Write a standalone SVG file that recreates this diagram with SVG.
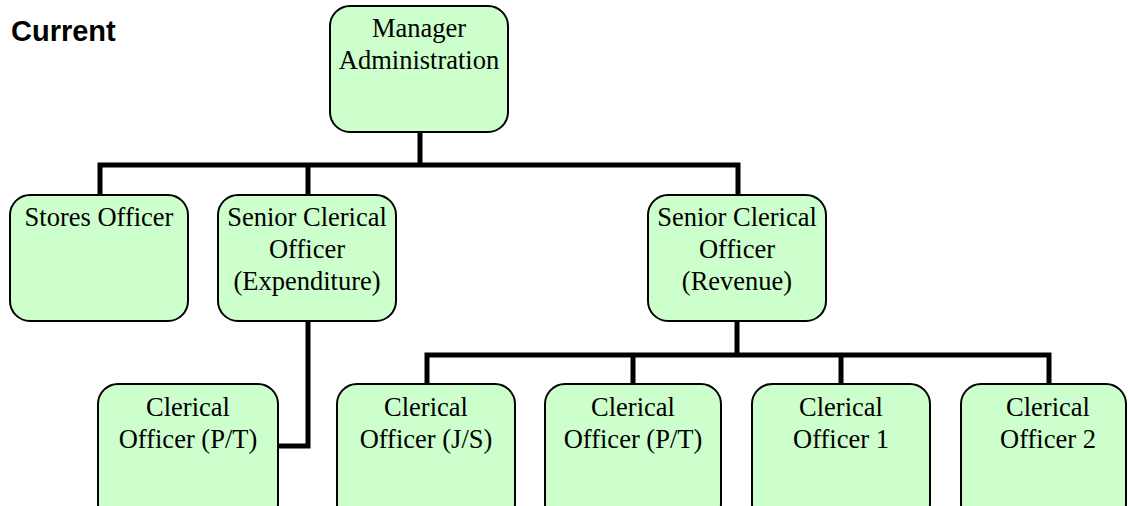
<svg xmlns="http://www.w3.org/2000/svg" width="1128" height="506" viewBox="0 0 1128 506">
<style>
.box{fill:#ccffcc;stroke:#000;stroke-width:2}
.t{font-family:"Liberation Serif","Times New Roman",serif;font-size:26.5px;fill:#000;text-anchor:middle}
.c{fill:none;stroke:#000;stroke-width:5;stroke-linecap:square}
.title{font-family:"Liberation Sans",Arial,sans-serif;font-size:29px;font-weight:bold;fill:#000}
</style>
<rect width="1128" height="506" fill="#fff"/>
<text class="title" x="11" y="41">Current</text>
<g id="connectors">
<path class="c" d="M420 133V165M100 165H738M100 165V194M308 165V194M738 165V194"/>
<path class="c" d="M308 322V446H279"/>
<path class="c" d="M737 322V355M427 355H1049M427 355V383M633 355V383M841 355V383M1049 355V383"/>
</g>
<g id="manager"><rect class="box" x="330" y="6" width="178" height="126" rx="20"/><text class="t" x="419" y="37">Manager</text><text class="t" x="419" y="69">Administration</text></g>
<g id="stores"><rect class="box" x="10" y="195" width="178" height="126" rx="20"/><text class="t" x="99" y="226">Stores Officer</text></g>
<g id="sco-exp"><rect class="box" x="218" y="195" width="178" height="126" rx="20"/><text class="t" x="307" y="226">Senior Clerical</text><text class="t" x="307" y="258">Officer</text><text class="t" x="307" y="290">(Expenditure)</text></g>
<g id="sco-rev"><rect class="box" x="648" y="195" width="178" height="126" rx="20"/><text class="t" x="737" y="226">Senior Clerical</text><text class="t" x="737" y="258">Officer</text><text class="t" x="737" y="290">(Revenue)</text></g>
<g id="co-pt1"><rect class="box" x="98" y="384" width="180" height="140" rx="20"/><text class="t" x="188" y="416">Clerical</text><text class="t" x="188" y="448">Officer (P/T)</text></g>
<g id="co-js"><rect class="box" x="337" y="384" width="178" height="140" rx="20"/><text class="t" x="426" y="416">Clerical</text><text class="t" x="426" y="448">Officer (J/S)</text></g>
<g id="co-pt2"><rect class="box" x="545" y="384" width="176" height="140" rx="20"/><text class="t" x="633" y="416">Clerical</text><text class="t" x="633" y="448">Officer (P/T)</text></g>
<g id="co-1"><rect class="box" x="752" y="384" width="178" height="140" rx="20"/><text class="t" x="841" y="416">Clerical</text><text class="t" x="841" y="448">Officer 1</text></g>
<g id="co-2"><rect class="box" x="961" y="384" width="165" height="140" rx="20"/><text class="t" x="1048" y="416">Clerical</text><text class="t" x="1048" y="448">Officer 2</text></g>
</svg>
